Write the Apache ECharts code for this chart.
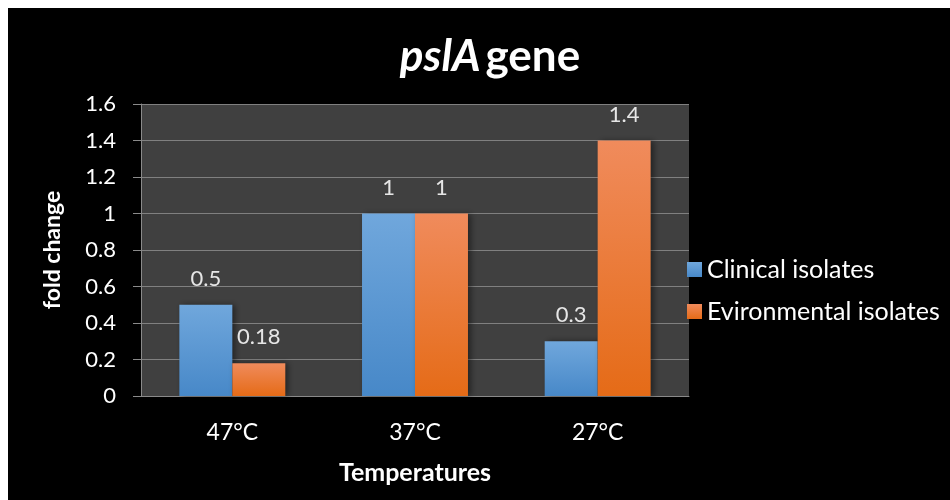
<!DOCTYPE html>
<html>
<head>
<meta charset="utf-8">
<script src="https://cdn.jsdelivr.net/npm/echarts@6/dist/echarts.min.js"></script>
<style>
html, body { margin: 0; padding: 0; background: #fff; }
#main { position: absolute; left: 8px; top: 8px; width: 942px; height: 492px; background: #000; }
</style>
</head>
<body>
<div id="main"></div>
<script>
// pslA gene fold change
var temps = ['47°C', '37°C', '27°C'];
var clinical = [0.5, 1, 0.3];
var environmental = [0.18, 1, 1.4];
var yTicks = [0, 0.2, 0.4, 0.6, 0.8, 1, 1.2, 1.4, 1.6];

var font = 'Lato';

function grad(top, bottom) {
	return new echarts.graphic.LinearGradient(0, 0, 0, 1, [
		{offset: 0, color: top},
		{offset: 1, color: bottom}
	]);
}

var chart = echarts.init(document.getElementById('main'));
var option = {
	backgroundColor: '#000',
	title: {
		left: 477,
		top: 22,
		textAlign: 'center',
		text: '{i|pslA} {b|gene}',
		textStyle: {
			rich: {
				i: {fontFamily: font, fontSize: 44, fontWeight: 'bold', fontStyle: 'italic', color: '#fff'},
				b: {fontFamily: font, fontSize: 44, fontWeight: 'bold', color: '#fff'}
			}
		}
	},
	legend: {
		orient: 'vertical',
		left: 674,
		top: 244,
		itemWidth: 15,
		itemHeight: 15,
		itemGap: 17,
		icon: 'rect',
		textStyle: {color: '#fff', fontFamily: font, fontSize: 25, lineHeight: 25},
		data: ['Clinical isolates', 'Evironmental isolates']
	},
	grid: {left: 133, right: 261, top: 96, bottom: 104, show: true, backgroundColor: '#404040', borderWidth: 0},
	xAxis: {
		type: 'category',
		data: temps,
		name: 'Temperatures',
		nameLocation: 'middle',
		nameGap: 64,
		nameTextStyle: {color: '#fff', fontFamily: font, fontSize: 25, fontWeight: 'bold'},
		axisLine: {lineStyle: {color: '#8a8a8a', width: 1}},
		axisTick: {length: 8, lineStyle: {color: '#8a8a8a'}},
		axisLabel: {color: '#fff', fontFamily: font, fontSize: 23, margin: 25}
	},
	yAxis: {
		type: 'value',
		min: 0,
		max: 1.6,
		interval: 0.2,
		name: 'fold change',
		nameLocation: 'middle',
		nameRotate: 90,
		nameGap: 77,
		nameTextStyle: {color: '#fff', fontFamily: font, fontSize: 23, fontWeight: 'bold'},
		axisLine: {show: true, lineStyle: {color: '#8a8a8a'}},
		axisTick: {show: true, length: 8, lineStyle: {color: '#8a8a8a'}},
		splitLine: {lineStyle: {color: '#808080', width: 1}},
		axisLabel: {
			color: '#fff', fontFamily: font, fontSize: 22, margin: 25,
			formatter: function (v) {
				for (var i = 0; i < yTicks.length; i++) {
					if (Math.abs(yTicks[i] - v) < 1e-9) return String(yTicks[i]);
				}
				return '';
			}
		}
	},
	series: [
		{
			name: 'Clinical isolates',
			type: 'bar',
			data: clinical,
			barGap: 0,
			barCategoryGap: '42%',
			itemStyle: {
				color: grad('#70a7dc', '#4788c8'),
				shadowColor: 'rgba(0,0,0,0.45)', shadowBlur: 6, shadowOffsetX: 3
			},
			label: {show: true, position: 'top', distance: 15, color: '#e6e6e6', fontFamily: font, fontSize: 22}
		},
		{
			name: 'Evironmental isolates',
			type: 'bar',
			data: environmental,
			itemStyle: {
				color: grad('#f08b5c', '#e56b17'),
				shadowColor: 'rgba(0,0,0,0.45)', shadowBlur: 6, shadowOffsetX: 3
			},
			label: {show: true, position: 'top', distance: 15, color: '#e6e6e6', fontFamily: font, fontSize: 22}
		}
	]
};
chart.setOption(option);
</script>
</body>
</html>
